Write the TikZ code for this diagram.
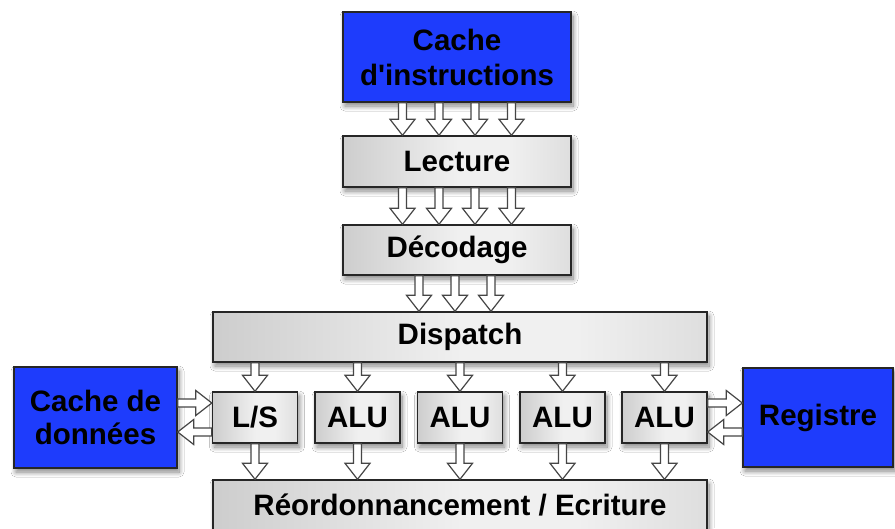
\documentclass[tikz,border=0pt]{standalone}
\usepackage{fontspec}
\setmainfont{Liberation Sans}
\usetikzlibrary{calc,shadows.blur}

\definecolor{unitblue}{RGB}{30,60,252}
\definecolor{edgegray}{RGB}{70,70,70}

% light centre fading to grey at both sides
\pgfdeclarehorizontalshading{stageshade}{100bp}{
  color(0bp)=(black!33); color(50bp)=(black!6); color(62bp)=(black!6); color(100bp)=(black!26)}

% hollow block arrow between two points
\newcommand\shaftw{4pt}
\newcommand\headw{12.5pt}
\newcommand\headlen{16pt}
\newcommand\fatarrow[2]{%
  \path (#1) coordinate (fa-s) (#2) coordinate (fa-e);
  \path ($(fa-e)!\headlen!(fa-s)$) coordinate (fa-n);
  \draw[hollow]
    ($(fa-s)!\shaftw!90:(fa-e)$) -- ($(fa-n)!\shaftw!-90:(fa-s)$)
    -- ($(fa-n)!\headw!-90:(fa-s)$) -- (fa-e)
    -- ($(fa-n)!\headw!90:(fa-s)$) -- ($(fa-n)!\shaftw!90:(fa-s)$)
    -- ($(fa-s)!\shaftw!-90:(fa-e)$) -- cycle;
}

\tikzset{
  lbl/.style={font=\fontsize{29.5}{34}\selectfont\bfseries, align=center, text=black},
  soft/.style={blur shadow={shadow xshift=2pt, shadow yshift=-4pt, shadow blur steps=10, shadow blur radius=5pt, shadow opacity=50}},
  stage/.style={lbl, soft, draw=black!85, line width=1.4pt, inner sep=0pt,
    shading=stageshade, shading angle=0},
  memory/.style={lbl, soft, draw=black!85, line width=1.4pt, inner sep=0pt, fill=unitblue},
  hollow/.style={draw=edgegray, line width=1.2pt, fill=white, line join=miter},
}

\begin{document}
\begin{tikzpicture}[x=1pt, y=-1pt]
\useasboundingbox[fill=white] (0,0) rectangle (895,528);

% pipeline stages
\node[memory, minimum width=228pt, minimum height=90pt] (icache) at (457,57) {Cache\\[1pt]d\textquotesingle instructions};
\node[stage, minimum width=228pt, minimum height=51pt] (lecture) at (457,161.5) {Lecture};
\node[stage, minimum width=228pt, minimum height=50pt] (decodage) at (457,250) {Décodage};
\node[stage, minimum width=494pt, minimum height=50pt] (dispatch) at (460,337) {Dispatch};

% execution units
\node[stage, minimum width=85pt, minimum height=51pt] (ls) at (255,417.5) {L/S};
\node[stage, minimum width=85pt, minimum height=51pt] (alu1) at (357.5,417.5) {ALU};
\node[stage, minimum width=85pt, minimum height=51pt] (alu2) at (460,417.5) {ALU};
\node[stage, minimum width=85pt, minimum height=51pt] (alu3) at (562.5,417.5) {ALU};
\node[stage, minimum width=85pt, minimum height=51pt] (alu4) at (664.5,417.5) {ALU};

\node[stage, minimum width=494pt, minimum height=50pt] (reorder) at (460,505) {Réordonnancement / Ecriture};

% side memories
\node[memory, minimum width=163pt, minimum height=101pt] (dcache) at (95.5,417.5) {Cache de\\[-1pt]données};
\node[memory, minimum width=150pt, minimum height=99pt] (regs) at (818,417.5) {Registre};

% instruction flow
\foreach \dx in {-54.5,-18,18,54.5} {
  \fatarrow{$(icache.south)+(\dx,0)$}{$(lecture.north)+(\dx,0)$}
  \fatarrow{$(lecture.south)+(\dx,0)$}{$(decodage.north)+(\dx,0)$}
}
\foreach \dx in {-38,-2,34} {
  \fatarrow{$(decodage.south)+(\dx,0)$}{$(dispatch.north)+(\dx-3,0)$}
}
\foreach \u in {ls,alu1,alu2,alu3,alu4} {
  \fatarrow{dispatch.south -| \u}{\u.north}
  \fatarrow{\u.south}{reorder.north -| \u}
}

% data exchanges
\fatarrow{$(dcache.east)+(0,-14.5)$}{$(ls.west)+(0,-14.5)$}
\fatarrow{$(ls.west)+(0,14.5)$}{$(dcache.east)+(0,14.5)$}
\fatarrow{$(alu4.east)+(0,-14.5)$}{$(regs.west)+(0,-14.5)$}
\fatarrow{$(regs.west)+(0,14.5)$}{$(alu4.east)+(0,14.5)$}
\end{tikzpicture}
\end{document}
